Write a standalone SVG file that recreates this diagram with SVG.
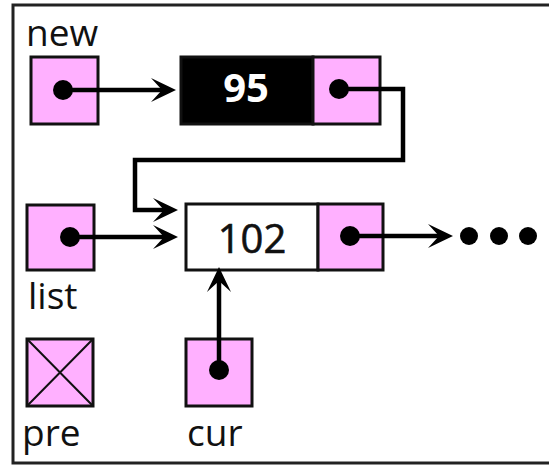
<svg xmlns="http://www.w3.org/2000/svg" width="549" height="467" viewBox="0 0 549 467">
  <style>
    .cell { fill: #FFB0FF; stroke: #111; stroke-width: 3; }
    .val { fill: #fff; stroke: #111; stroke-width: 3; }
    .blk { fill: #000; stroke: #111; stroke-width: 3; }
    .dot { fill: #000; }
    .wire { fill: none; stroke: #000; stroke-width: 4.5; }
    .label { font-family: "Open Sans", "Liberation Sans", sans-serif; font-size: 37px; fill: #111; }
    .num { font-family: "Open Sans", "Liberation Sans", sans-serif; font-size: 40px; text-anchor: middle; }
  </style>
  <defs>
    <marker id="arrow" markerUnits="userSpaceOnUse" markerWidth="30" markerHeight="30" viewBox="-2 -14 30 28" refX="11" refY="0" orient="auto">
      <path d="M0,-12 L25,0 L0,12 L11,0 Z" fill="#000"/>
    </marker>
  </defs>

  <rect x="13" y="5" width="560" height="458" fill="#fff" stroke="#222" stroke-width="3"/>

  <g id="new">
    <text class="label" x="26" y="46">new</text>
    <rect class="cell" x="31" y="57" width="67" height="67"/>
  </g>

  <g id="node95">
    <rect class="blk" x="181" y="57" width="132" height="67"/>
    <rect class="cell" x="313" y="57" width="67" height="67"/>
    <text class="num" x="246" y="102" fill="#fff" font-weight="bold">95</text>
  </g>

  <g id="list">
    <rect class="cell" x="27" y="205" width="67" height="65"/>
    <text class="label" x="28" y="309">list</text>
  </g>

  <g id="node102">
    <rect class="val" x="186" y="204" width="132" height="66"/>
    <rect class="cell" x="318" y="204" width="65" height="66"/>
    <text class="num" x="252" y="253" fill="#111" stroke="#111" stroke-width="0.6">102</text>
  </g>

  <g id="pre">
    <rect class="cell" x="27" y="339" width="66" height="67"/>
    <path d="M27,339 L93,406 M93,339 L27,406" stroke="#111" stroke-width="2"/>
    <text class="label" x="22" y="446">pre</text>
  </g>

  <g id="cur">
    <rect class="cell" x="186" y="339" width="66" height="67"/>
    <text class="label" x="187" y="446">cur</text>
  </g>

  <g id="more">
    <circle class="dot" cx="469" cy="236" r="9"/>
    <circle class="dot" cx="499" cy="236" r="9"/>
    <circle class="dot" cx="528" cy="236" r="9"/>
  </g>

  <g id="connectors">
    <path class="wire" d="M63,90 H162" marker-end="url(#arrow)"/>
    <path class="wire" d="M339,89 H403 V160 H135 V210 H164" marker-end="url(#arrow)"/>
    <path class="wire" d="M70,237 H164" marker-end="url(#arrow)"/>
    <path class="wire" d="M219,370 V281" marker-end="url(#arrow)"/>
    <path class="wire" d="M350,236 H439" marker-end="url(#arrow)"/>
    <circle class="dot" cx="63" cy="90" r="10"/>
    <circle class="dot" cx="339" cy="89" r="10"/>
    <circle class="dot" cx="70" cy="237" r="10"/>
    <circle class="dot" cx="219" cy="370" r="10"/>
    <circle class="dot" cx="350" cy="236" r="10"/>
  </g>
</svg>
